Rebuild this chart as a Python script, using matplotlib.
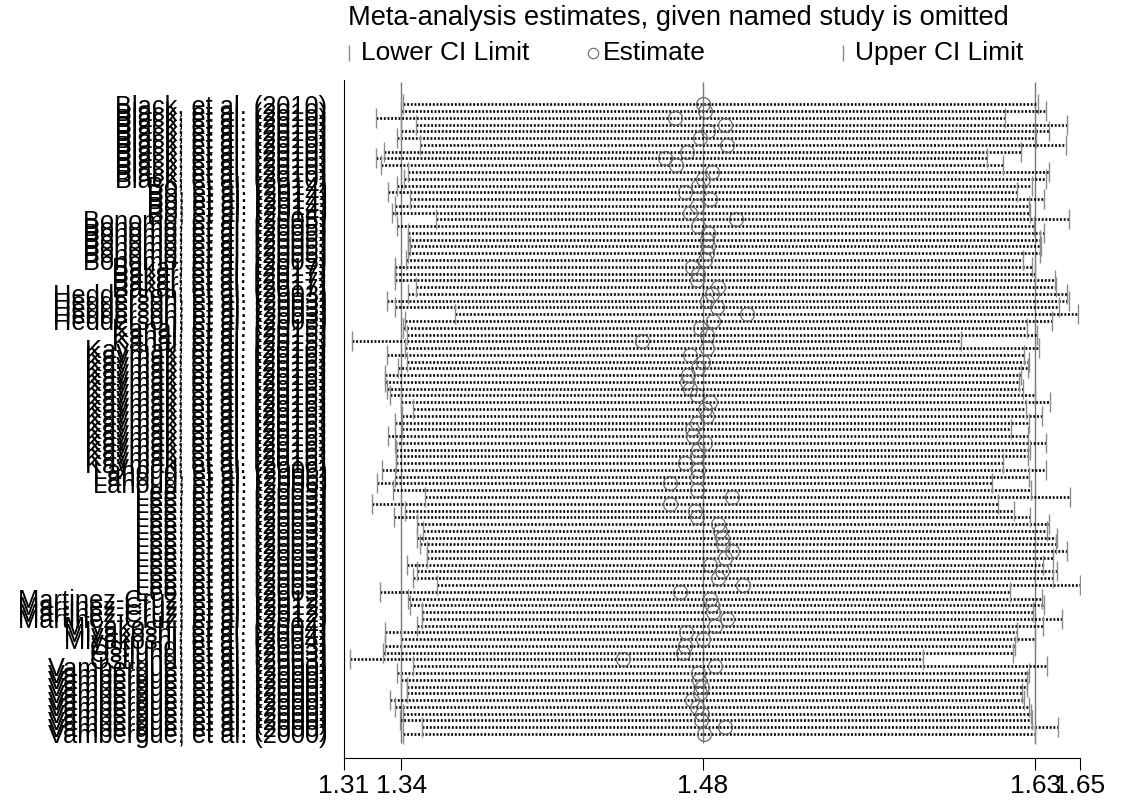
import numpy as np
import matplotlib.pyplot as plt
from matplotlib.lines import Line2D

plt.rcParams['font.family'] = ['Liberation Sans', 'DejaVu Sans']

# study labels, one block per study (rows are stacked top to bottom)
studies = ["Black, et al. (2010)", "Bo, et al. (2014)", "Bonomo, et al. (2005)",
           "Bakar, et al. (2017)", "Hedderson, et al. (2003)", "Kanal, et al. (2015)",
           "Kaymak, et al. (2016)", "Lahoud, et al. (2006)", "Lee, et al. (2003)",
           "Martinez-Cruz, et al. (2012)", "Miyakoshi, et al. (2004)",
           "Ostlund, et al. (2003)", "Vambergue, et al. (2000)"]
counts = [12, 5, 7, 4, 5, 3, 18, 3, 16, 4, 3, 3, 11]

lower = [1.3373, 1.3363, 1.3246, 1.3433, 1.3363, 1.3343, 1.3451, 1.3285, 1.3248, 1.3271,
         1.3396, 1.3377, 1.3345, 1.3303, 1.3405, 1.3336, 1.3322, 1.3525, 1.3345, 1.3396,
         1.3396, 1.3405, 1.3396, 1.3386, 1.3336, 1.3336, 1.3336, 1.3433, 1.3396, 1.3299,
         1.3336, 1.3613, 1.3382, 1.3373, 1.3391, 1.3136, 1.3382, 1.3297, 1.3391, 1.3349,
         1.3289, 1.3289, 1.3299, 1.3312, 1.3363, 1.3419, 1.3368, 1.3336, 1.3368, 1.3303,
         1.3336, 1.3340, 1.3340, 1.3340, 1.3276, 1.3336, 1.3252, 1.3326, 1.3474, 1.3229,
         1.3382, 1.3331, 1.3437, 1.3465, 1.3437, 1.3451, 1.3483, 1.3483, 1.3391, 1.3437,
         1.3419, 1.3530, 1.3266, 1.3396, 1.3405, 1.3460, 1.3460, 1.3437, 1.3289, 1.3363,
         1.3289, 1.3280, 1.3128, 1.3419, 1.3345, 1.3363, 1.3391, 1.3391, 1.3312, 1.3336,
         1.3373, 1.3359, 1.3460, 1.3373]

estimate = [1.4757, 1.4767, 1.4629, 1.4860, 1.4781, 1.4744, 1.4869, 1.4684, 1.4583, 1.4634,
            1.4800, 1.4758, 1.4735, 1.4675, 1.4791, 1.4731, 1.4698, 1.4911, 1.4735, 1.4781,
            1.4777, 1.4781, 1.4777, 1.4767, 1.4707, 1.4735, 1.4731, 1.4828, 1.4800, 1.4777,
            1.4823, 1.4961, 1.4804, 1.4744, 1.4777, 1.4476, 1.4777, 1.4698, 1.4758, 1.4735,
            1.4689, 1.4684, 1.4698, 1.4731, 1.4791, 1.4767, 1.4777, 1.4731, 1.4707, 1.4712,
            1.4767, 1.4735, 1.4731, 1.4675, 1.4735, 1.4731, 1.4606, 1.4731, 1.4892, 1.4606,
            1.4721, 1.4731, 1.4828, 1.4837, 1.4846, 1.4851, 1.4892, 1.4860, 1.4791, 1.4846,
            1.4828, 1.4943, 1.4652, 1.4791, 1.4800, 1.4804, 1.4869, 1.4814, 1.4680, 1.4758,
            1.4675, 1.4666, 1.4389, 1.4814, 1.4735, 1.4740, 1.4754, 1.4744, 1.4707, 1.4731,
            1.4754, 1.4749, 1.4860, 1.4763]

upper = [1.6306, 1.6343, 1.6153, 1.6440, 1.6356, 1.6296, 1.6435, 1.6227, 1.6070, 1.6144,
         1.6356, 1.6343, 1.6278, 1.6209, 1.6333, 1.6264, 1.6269, 1.6449, 1.6287, 1.6333,
         1.6315, 1.6320, 1.6315, 1.6236, 1.6278, 1.6292, 1.6384, 1.6389, 1.6440, 1.6449,
         1.6403, 1.6490, 1.6370, 1.6255, 1.6301, 1.5950, 1.6310, 1.6241, 1.6264, 1.6259,
         1.6227, 1.6218, 1.6236, 1.6292, 1.6361, 1.6250, 1.6324, 1.6264, 1.6181, 1.6259,
         1.6343, 1.6269, 1.6259, 1.6144, 1.6343, 1.6264, 1.6093, 1.6273, 1.6453, 1.6121,
         1.6195, 1.6269, 1.6356, 1.6347, 1.6393, 1.6389, 1.6440, 1.6375, 1.6329, 1.6393,
         1.6375, 1.6500, 1.6176, 1.6324, 1.6333, 1.6283, 1.6416, 1.6329, 1.6209, 1.6292,
         1.6200, 1.6190, 1.5774, 1.6347, 1.6264, 1.6255, 1.6255, 1.6232, 1.6241, 1.6264,
         1.6273, 1.6278, 1.6398, 1.6292]

# pooled estimate and its CI (reference lines)
overall = [1.3365, 1.4757, 1.6293]
xticks = [1.31, 1.3365, 1.4757, 1.6293, 1.65]
xticklabels = ["1.31", "1.34", "1.48", "1.63", "1.65"]

labels = []
for s, c in zip(studies, counts):
    labels += [s] * c
rows = np.arange(len(lower))

fig = plt.figure(figsize=(11.31, 8.09), dpi=100)
ax = fig.add_axes([344/1131, 51/809, 736/1131, 678/809])

ax.vlines(overall, -3.3, 94.4, color='#7a7a7a', linewidth=1.0, zorder=1)
ax.hlines(rows, lower, upper, color='black', linewidth=1.9,
          linestyles=[(0, (0.72, 0.67))], zorder=2)
ax.plot(lower, rows, ls='none', marker='|', ms=14, mew=1.0, color='#8c8c8c', zorder=3)
ax.plot(upper, rows, ls='none', marker='|', ms=14, mew=1.0, color='#8c8c8c', zorder=3)
ax.plot(estimate, rows, ls='none', marker='o', ms=10, mfc='none', mec='#666666',
        mew=0.85, zorder=4)

ax.set_xlim(1.31, 1.65)
ax.set_ylim(96.55, -3.59)
ax.set_xticks(xticks)
ax.set_xticklabels(xticklabels, fontsize=19)
ax.set_yticks(rows)
ax.set_yticklabels(labels, fontsize=18.3)
ax.tick_params(axis='y', length=0, pad=12)
ax.tick_params(axis='x', length=8.6, width=0.8, pad=3)
for side in ['top', 'right']:
    ax.spines[side].set_visible(False)
for side in ['left', 'bottom']:
    ax.spines[side].set_linewidth(0.8)

fig.text(348/1131, 1 - 18/809, "Meta-analysis estimates, given named study is omitted",
         fontsize=19.6, ha='left', va='center')

# legend row
ly = 1 - 53/809
fig.add_artist(Line2D([349/1131], [ly], marker='|', ms=12, mew=1.0, color='#8c8c8c',
                      transform=fig.transFigure))
fig.text(361/1131, ly, "Lower CI Limit", fontsize=19, ha='left', va='center')
fig.add_artist(Line2D([593/1131], [ly], marker='o', ms=7.5, mfc='none', mec='#666666',
                      mew=0.8, transform=fig.transFigure))
fig.text(603/1131, ly, "Estimate", fontsize=19, ha='left', va='center')
fig.add_artist(Line2D([843/1131], [ly], marker='|', ms=12, mew=1.0, color='#8c8c8c',
                      transform=fig.transFigure))
fig.text(855/1131, ly, "Upper CI Limit", fontsize=19, ha='left', va='center')

fig.savefig("out.png", dpi=100)
